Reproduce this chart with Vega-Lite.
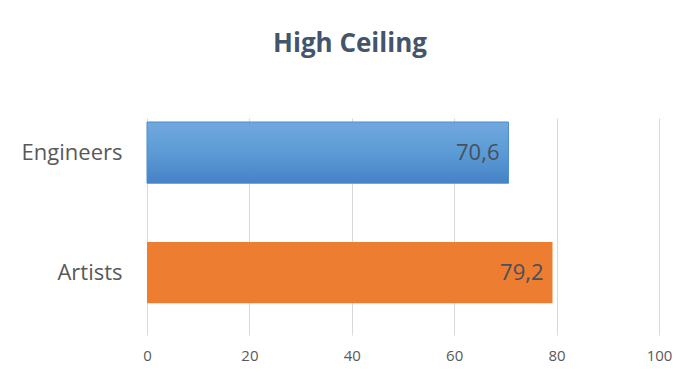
{
  "$schema": "https://vega.github.io/schema/vega-lite/v6.json",
  "autosize": "none",
  "width": 512,
  "height": 217,
  "padding": {"left": 147, "top": 118, "right": 32, "bottom": 48},
  "background": "white",
  "config": {
    "view": {"stroke": null},
    "font": "Open Sans",
    "locale": {"number": {"decimal": ",", "thousands": ".", "grouping": [3], "currency": ["", " €"]}}
  },
  "title": {
    "text": "High Ceiling",
    "fontSize": 26,
    "fontWeight": "bold",
    "color": "#44546a",
    "font": "Open Sans",
    "anchor": "middle",
    "dx": -53,
    "baseline": "alphabetic",
    "offset": 40
  },
  "data": {"values": [
    {"group": "Engineers", "value": 70.6},
    {"group": "Artists", "value": 79.2}
  ]},
  "encoding": {
    "y": {
      "field": "group", "type": "nominal",
      "sort": ["Engineers", "Artists"],
      "scale": {"paddingInner": 0.49, "paddingOuter": 0.149, "align": 0.112},
      "axis": {"title": null, "domain": false, "ticks": false, "labelFontSize": 22, "labelColor": "#595959", "labelPadding": 25, "labelFont": "Open Sans"}
    },
    "x": {
      "field": "value", "type": "quantitative",
      "scale": {"domain": [0, 100], "nice": false},
      "axis": {"title": null, "domain": false, "ticks": false, "values": [0, 20, 40, 60, 80, 100], "gridColor": "#d9d9d9", "labelFontSize": 15, "labelColor": "#595959", "labelPadding": 13, "labelFlush": false, "labelFont": "Open Sans"}
    }
  },
  "layer": [
    {
      "transform": [{"filter": "datum.group === 'Engineers'"}],
      "mark": {"type": "bar", "stroke": "#4f8ccc", "strokeWidth": 1,
        "fill": {"gradient": "linear", "x1": 0, "y1": 0, "x2": 0, "y2": 1,
          "stops": [{"offset": 0, "color": "#72a8de"}, {"offset": 0.5, "color": "#5b9bd5"}, {"offset": 1, "color": "#4682c6"}]}}
    },
    {
      "transform": [{"filter": "datum.group === 'Artists'"}],
      "mark": {"type": "bar", "fill": "#ed7d31"}
    },
    {
      "mark": {"type": "text", "align": "right", "baseline": "middle", "dx": -9, "fontSize": 22, "color": "#46505e", "font": "Open Sans"},
      "encoding": {"text": {"field": "value", "type": "quantitative", "format": ".1f"}}
    }
  ]
}
